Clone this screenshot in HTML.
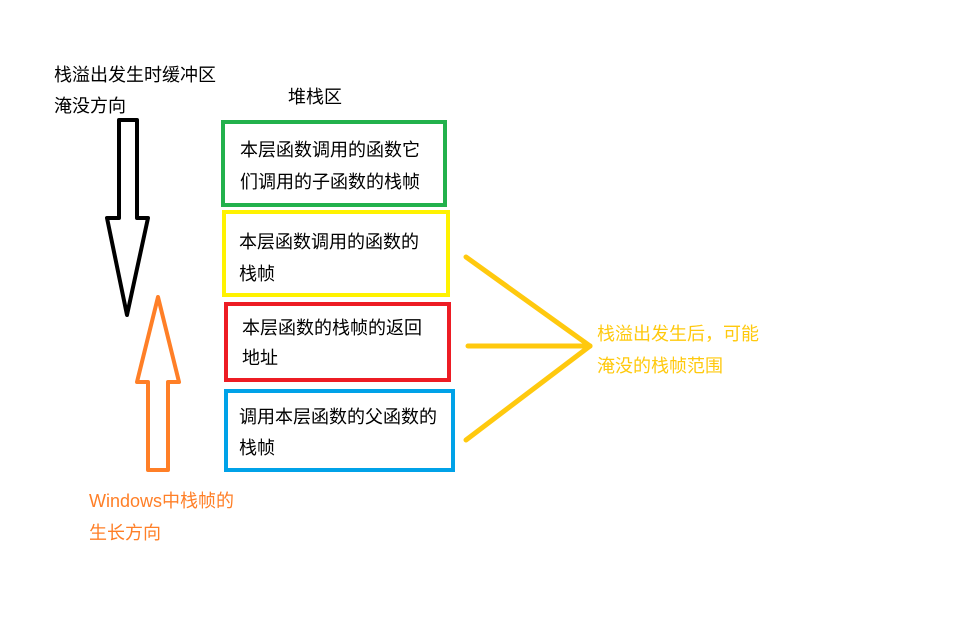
<!DOCTYPE html>
<html><head><meta charset="utf-8"><style>
html,body{margin:0;padding:0;background:#fff;}
svg{display:block;}
text{font-family:"Liberation Sans","Noto Sans CJK SC","WenQuanYi Zen Hei",sans-serif;font-size:18px;}
</style></head><body>
<svg width="980" height="619" viewBox="0 0 980 619" xmlns="http://www.w3.org/2000/svg">
<rect width="980" height="619" fill="#fff"/>
<text x="54" y="81" fill="#000">栈溢出发生时缓冲区</text>
<text x="54" y="112" fill="#000">淹没方向</text>
<text x="288" y="103" fill="#000">堆栈区</text>
<!-- black arrow -->
<polygon points="119,120 137,120 137,218 148,218 127,315 107,218 119,218" fill="none" stroke="#000" stroke-width="4" stroke-linejoin="round"/>
<!-- orange arrow -->
<polygon points="158,297 179,382 168,382 168,470 148,470 148,382 137,382" fill="none" stroke="#ff7f27" stroke-width="4" stroke-linejoin="round"/>
<!-- boxes -->
<rect x="223" y="122" width="222" height="83" fill="none" stroke="#22b14c" stroke-width="4"/>
<rect x="224" y="212" width="224" height="83" fill="none" stroke="#fff200" stroke-width="4"/>
<rect x="226" y="304" width="223" height="76" fill="none" stroke="#ed1c24" stroke-width="4"/>
<rect x="226" y="391" width="227" height="79" fill="none" stroke="#00a2e8" stroke-width="4"/>
<text x="240" y="156" fill="#000">本层函数调用的函数它</text>
<text x="240" y="188" fill="#000">们调用的子函数的栈帧</text>
<text x="239" y="248" fill="#000">本层函数调用的函数的</text>
<text x="239" y="280" fill="#000">栈帧</text>
<text x="242" y="334" fill="#000">本层函数的栈帧的返回</text>
<text x="242" y="364" fill="#000">地址</text>
<text x="239" y="423" fill="#000">调用本层函数的父函数的</text>
<text x="239" y="454" fill="#000">栈帧</text>
<!-- yellow lines -->
<g stroke="#ffc90e" stroke-width="5" stroke-linecap="round" fill="none">
<line x1="466" y1="257" x2="590" y2="346"/>
<line x1="468" y1="346" x2="590" y2="346"/>
<line x1="466" y1="440" x2="590" y2="346"/>
</g>
<text x="597" y="340" fill="#ffc90e">栈溢出发生后，可能</text>
<text x="597" y="372" fill="#ffc90e">淹没的栈帧范围</text>
<text x="89" y="507" fill="#ff7f27">Windows中栈帧的</text>
<text x="89" y="539" fill="#ff7f27">生长方向</text>
</svg>
</body></html>
